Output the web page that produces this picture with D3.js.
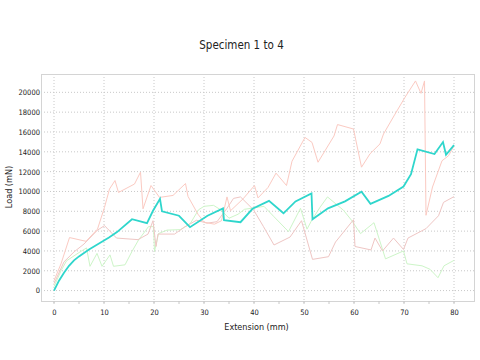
<!DOCTYPE html>
<html><head><meta charset="utf-8">
<script src="https://cdn.jsdelivr.net/npm/d3@7"></script>
<style>
html,body{margin:0;padding:0;background:#fff;}
text{font-family:"DejaVu Sans Condensed","DejaVu Sans",sans-serif;fill:#222;}
</style></head>
<body><svg id="c" width="480" height="360"></svg>
<script>
const title = "Specimen 1 to 4";
const xLabel = "Extension (mm)";
const yLabel = "Load (mN)";
const xTicks = [0,10,20,30,40,50,60,70,80];
const yTicks = [0,2000,4000,6000,8000,10000,12000,14000,16000,18000,20000];

const specimen1 = [[0,1000],[1.4,2700],[3.1,5350],[6.4,4970],[8.7,6200],[10.1,8400],[11.1,10250],[12.2,11100],[12.9,9900],[16.1,10750],[17.3,11950],[17.8,8250],[19.4,10600],[21.1,9400],[23.8,9600],[26.3,10800],[26.8,9500],[28.8,7700],[30.0,6900],[32.1,6700],[33.5,7050],[34.6,9450],[35.3,8050],[37.8,9250],[40.1,10600],[40.8,9350],[42.8,10400],[44.4,11850],[46.5,10600],[47.6,13050],[50.2,15450],[51.6,14950],[52.8,12950],[56.0,15600],[56.7,16750],[59.9,16300],[61.5,12450],[63.2,13800],[65.2,14800],[65.9,15800],[68.2,17800],[70.2,19500],[72.3,21150],[73.4,19900],[74.1,21150],[74.4,7600],[75.7,10450],[77.6,13100],[78.9,13600],[80,14600]];
const specimen2 = [[0,700],[2,2900],[4,3900],[6,4700],[8.7,6100],[10.1,6550],[10.6,6300],[12.5,5300],[16.8,5140],[18.8,5700],[19.8,7050],[20.4,4450],[20.8,5700],[24.1,5700],[26.1,6400],[28.5,7100],[30.6,6800],[32.6,6950],[34.6,8300],[35.9,9300],[37.3,9450],[39.9,8150],[41.9,6450],[44,4600],[47.2,5400],[49.5,7050],[51.7,3150],[54.9,3420],[56.3,4900],[59.9,7150],[60.2,4450],[63.4,4100],[64.2,5300],[65.7,4000],[67.9,5300],[69.9,4150],[70.8,5300],[74.4,6250],[76.9,7550],[77.9,8900],[80,9480]];
const specimen3 = [[0,400],[1.4,2000],[2.5,3000],[5.2,3900],[6.5,4300],[7.2,2450],[8.6,3750],[9.6,2450],[11.2,3600],[11.9,2450],[14.2,2600],[15.6,3950],[16.9,5100],[18.9,6450],[19.9,6450],[20.1,3950],[20.9,5750],[22.6,6100],[25.3,6150],[27.3,6800],[28.9,8150],[30,8500],[31.9,8600],[33.5,8100],[35,7300],[36.8,7700],[38.1,8200],[40.1,8350],[42,8500],[44,7450],[46.9,5950],[49.3,8300],[50.6,6200],[51.5,7050],[53.2,8400],[54.7,9450],[57.9,8100],[59.5,7100],[61.3,5750],[64,6850],[66.3,3200],[69.9,4000],[70.6,2700],[73.6,2500],[75.2,2150],[76.8,1300],[78,2500],[80,3050]];
const specimen4 = [[0,0],[0.5,500],[1,1000],[2,1800],[3,2500],[4,3050],[5,3450],[6,3800],[7,4150],[8,4450],[9,4750],[10,5050],[11,5350],[12.6,5900],[15.6,7200],[18.6,6800],[19.8,8050],[21.2,9250],[21.6,8000],[25.0,7550],[27.2,6400],[30.7,7550],[33.8,8300],[34.0,7100],[37.3,6900],[39.7,8250],[43.0,9050],[45.9,7800],[48.3,9000],[51.5,9800],[51.7,7200],[54.8,8300],[58.2,9000],[61.5,9980],[63.3,8750],[66.9,9550],[69.9,10500],[71.4,11750],[72.7,14250],[76.1,13780],[77.8,14980],[78.4,13700],[80,14680]];

const series = [
  {data: specimen3, color: "#cdf5c8", width: 1},
  {data: specimen2, color: "#efc6c4", width: 1},
  {data: specimen1, color: "#fbcac2", width: 1},
  {data: specimen4, color: "#2fd6cc", width: 1.8}
];

const svg = d3.select("#c");
const L = 41, R = 474, T = 74, B = 301;
const x = d3.scaleLinear().domain([-2.6, 84]).range([L, R]);
const y = d3.scaleLinear().domain([-1050, 21850]).range([B, T]);

// grid
const g = svg.append("g");
g.selectAll("line.h").data(yTicks).enter().append("line")
  .attr("x1", L).attr("x2", R).attr("y1", d => y(d)).attr("y2", d => y(d))
  .attr("stroke", "#c8c8c8").attr("stroke-dasharray", "1,2");
g.selectAll("line.v").data(xTicks).enter().append("line")
  .attr("y1", T).attr("y2", B + 2).attr("x1", d => x(d)).attr("x2", d => x(d))
  .attr("stroke", "#c8c8c8").attr("stroke-dasharray", "1,2");

// frame
svg.append("rect").attr("x", L + 0.5).attr("y", T + 0.5).attr("width", R - L).attr("height", B - T)
  .attr("fill", "none").attr("stroke", "#d4d4d4");

// x minor ticks below frame
const xMinor = d3.range(0, 81, 5);
svg.append("g").selectAll("line").data(xMinor).enter().append("line")
  .attr("x1", d => x(d)).attr("x2", d => x(d)).attr("y1", B).attr("y2", B + 3)
  .attr("stroke", "#c8c8c8");

const fontFam = '"DejaVu Sans Condensed","DejaVu Sans",sans-serif';
const xAxis = d3.axisBottom(x).tickValues(xTicks).tickSize(0).tickPadding(9).tickFormat(d3.format("d"));
const xa = svg.append("g").attr("transform", `translate(0,${B})`).call(xAxis);
xa.select(".domain").remove();
xa.selectAll("text").attr("font-size", 7.5).attr("fill", "#222").attr("font-family", fontFam);

const yAxis = d3.axisLeft(y).tickValues(yTicks).tickSize(0).tickPadding(1).tickFormat(d3.format("d"));
const ya = svg.append("g").attr("transform", `translate(${L},0)`).call(yAxis);
ya.select(".domain").remove();
ya.selectAll("text").attr("font-size", 7.5).attr("fill", "#222").attr("font-family", fontFam);

// lines
const line = d3.line().x(d => x(d[0])).y(d => y(d[1]));
svg.append("g").selectAll("path").data(series).enter().append("path")
  .attr("d", d => line(d.data)).attr("fill", "none")
  .attr("stroke", d => d.color).attr("stroke-width", d => d.width)
  .attr("stroke-linejoin", "miter");

// titles
svg.append("text").attr("x", 241.5).attr("y", 49).attr("text-anchor", "middle")
  .attr("font-size", 11.5).text(title);
svg.append("text").attr("x", 256.5).attr("y", 330).attr("text-anchor", "middle")
  .attr("font-size", 9).text(xLabel);
svg.append("text").attr("transform", "translate(12,187) rotate(-90)").attr("text-anchor", "middle")
  .attr("font-size", 9).text(yLabel);
</script></body></html>
